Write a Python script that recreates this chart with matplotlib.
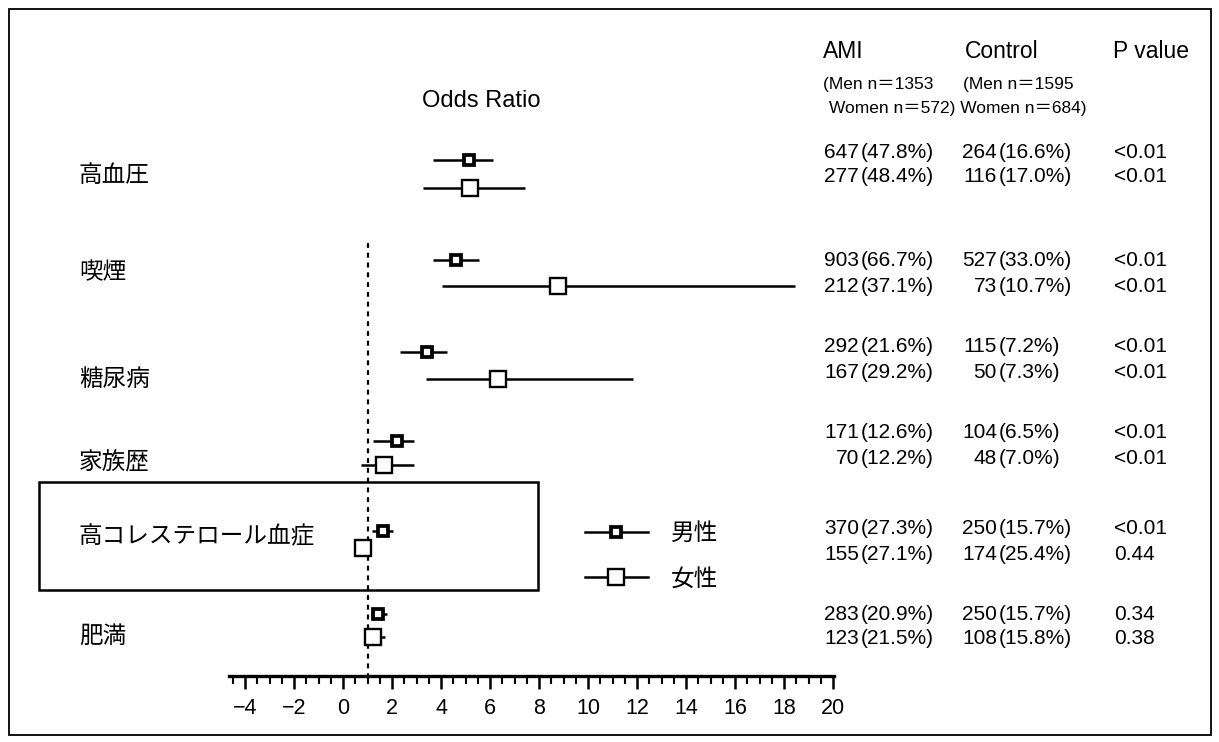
import matplotlib
matplotlib.use('Agg')
import matplotlib.pyplot as plt
from matplotlib.lines import Line2D
from matplotlib.patches import Rectangle
from matplotlib.ticker import MultipleLocator, FixedLocator

# ---------------- data ----------------
categories = ['高血圧', '喫煙', '糖尿病', '家族歴', '高コレステロール血症', '肥満']
men_or = [5.14, 4.61, 3.43, 2.20, 1.63, 1.43]
men_lo = [3.67, 3.67, 2.33, 1.22, 1.18, 1.14]
men_hi = [6.12, 5.55, 4.24, 2.90, 2.04, 1.80]
women_or = [5.18, 8.78, 6.33, 1.67, 0.82, 1.22]
women_lo = [3.27, 4.04, 3.39, 0.73, 0.57, 0.90]
women_hi = [7.43, 18.45, 11.84, 2.90, 1.10, 1.71]

ami_men_n = [647, 903, 292, 171, 370, 283]
ami_men_pct = ['47.8', '66.7', '21.6', '12.6', '27.3', '20.9']
ami_women_n = [277, 212, 167, 70, 155, 123]
ami_women_pct = ['48.4', '37.1', '29.2', '12.2', '27.1', '21.5']
ctrl_men_n = [264, 527, 115, 104, 250, 250]
ctrl_men_pct = ['16.6', '33.0', '7.2', '6.5', '15.7', '15.7']
ctrl_women_n = [116, 73, 50, 48, 174, 108]
ctrl_women_pct = ['17.0', '10.7', '7.3', '7.0', '25.4', '15.8']
p_men = ['<0.01', '<0.01', '<0.01', '<0.01', '<0.01', '0.34']
p_women = ['<0.01', '<0.01', '<0.01', '<0.01', '0.44', '0.38']

xticks = list(range(-4, 21, 2))
ref_value = 1
series_labels = ['男性', '女性']
col_headers = ['AMI', 'Control', 'P value']
ami_note = '(Men n＝1353'
ctrl_note = '(Men n＝1595'
women_note = 'Women n＝572) Women n＝684)'

# ---------------- layout (pixel positions) ----------------
W, H = 1219, 742
men_y = [160, 260, 352, 441, 531, 614]
women_y = [188, 286, 379, 465, 548, 637]
label_y = [175, 273, 380, 463, 537, 636]
txt_men_y = [153, 261, 347, 433, 528, 614]
txt_women_y = [177, 287, 372, 458, 554, 639]

LAT = ['Liberation Sans', 'Noto Sans CJK JP']
CJK = ['Noto Sans CJK JP', 'Liberation Sans']

fig = plt.figure(figsize=(W / 100, H / 100), dpi=100)
bg = fig.add_axes([0, 0, 1, 1])
bg.set_xlim(0, W)
bg.set_ylim(H, 0)
bg.axis('off')

# outer frame and highlight box
bg.add_patch(Rectangle((9, 9), 1202, 726, fill=False, lw=1.3, ec='black'))
bg.add_patch(Rectangle((39, 482), 499, 108, fill=False, lw=1.8, ec='black'))

# forest axes
x0, x1 = -4.65, 20.05
px_per = 24.5
left_px = 343 + px_per * x0
right_px = 343 + px_per * x1
ax_top, ax_bot = 140, 676
ax = fig.add_axes([left_px / W, (H - ax_bot) / H, (right_px - left_px) / W, (ax_bot - ax_top) / H])
ax.set_facecolor('none')
ax.set_xlim(x0, x1)
ax.set_ylim(ax_bot, ax_top)
for s in ['top', 'right', 'left']:
    ax.spines[s].set_visible(False)
ax.spines['bottom'].set_linewidth(2.4)
ax.set_yticks([])
ax.xaxis.set_major_locator(FixedLocator(xticks))
ax.xaxis.set_minor_locator(MultipleLocator(0.5))
ax.tick_params(axis='x', which='major', direction='out', length=9, width=1.8, pad=7,
               labelsize=15.5)
ax.tick_params(axis='x', which='minor', direction='out', length=5.5, width=1.5)
for lab in ax.get_xticklabels():
    lab.set_fontfamily(LAT)

ax.vlines(ref_value, 243, ax_bot, colors='black', linestyles=(0, (2.2, 2.2)), lw=1.6)

ax.errorbar(men_or, men_y,
            xerr=[[o - l for o, l in zip(men_or, men_lo)], [h - o for o, h in zip(men_or, men_hi)]],
            fmt='s', ms=7, mfc='white', mec='black', mew=2.7, ecolor='black',
            elinewidth=1.8, capsize=0, zorder=3)
ax.errorbar(women_or, women_y,
            xerr=[[o - l for o, l in zip(women_or, women_lo)], [h - o for o, h in zip(women_or, women_hi)]],
            fmt='s', ms=11, mfc='white', mec='black', mew=1.7, ecolor='black',
            elinewidth=1.8, capsize=0, zorder=3)

# legend
handles = [Line2D([], [], color='black', lw=1.8, marker='s', ms=7, mfc='white', mec='black', mew=2.7),
           Line2D([], [], color='black', lw=1.8, marker='s', ms=11, mfc='white', mec='black', mew=1.7)]
leg = bg.legend(handles, series_labels, loc='upper left', bbox_to_anchor=(585, 522),
                bbox_transform=bg.transData, frameon=False, borderpad=0, borderaxespad=0,
                handlelength=2.65, handletextpad=1.0, labelspacing=0.96,
                prop={'family': CJK, 'size': 17})

# category labels
for c, y in zip(categories, label_y):
    bg.text(79, y, c, fontsize=17, family=CJK, va='center', ha='left')

# headers
bg.text(481, 101, 'Odds Ratio', fontsize=17, family=LAT, ha='center', va='center')
for x, t in zip([823, 965, 1113], col_headers):
    bg.text(x, 52, t, fontsize=16.5, family=LAT, ha='left', va='center')
bg.text(823, 85, ami_note, fontsize=12.5, family=LAT, ha='left', va='center')
bg.text(963, 85, ctrl_note, fontsize=12.5, family=LAT, ha='left', va='center')
bg.text(829, 108, women_note, fontsize=12.5, family=LAT, ha='left', va='center')

# table
def cell(xr, y, n, pct):
    bg.text(xr, y, str(n), fontsize=15, family=LAT, ha='right', va='center')
    bg.text(xr + 2, y, '(' + pct + '%)', fontsize=15, family=LAT, ha='left', va='center')

for i in range(len(categories)):
    cell(859, txt_men_y[i], ami_men_n[i], ami_men_pct[i])
    cell(859, txt_women_y[i], ami_women_n[i], ami_women_pct[i])
    cell(997, txt_men_y[i], ctrl_men_n[i], ctrl_men_pct[i])
    cell(997, txt_women_y[i], ctrl_women_n[i], ctrl_women_pct[i])
    bg.text(1114, txt_men_y[i], p_men[i], fontsize=15, family=LAT, ha='left', va='center')
    bg.text(1114, txt_women_y[i], p_women[i], fontsize=15, family=LAT, ha='left', va='center')

fig.savefig('out.png', dpi=100)
